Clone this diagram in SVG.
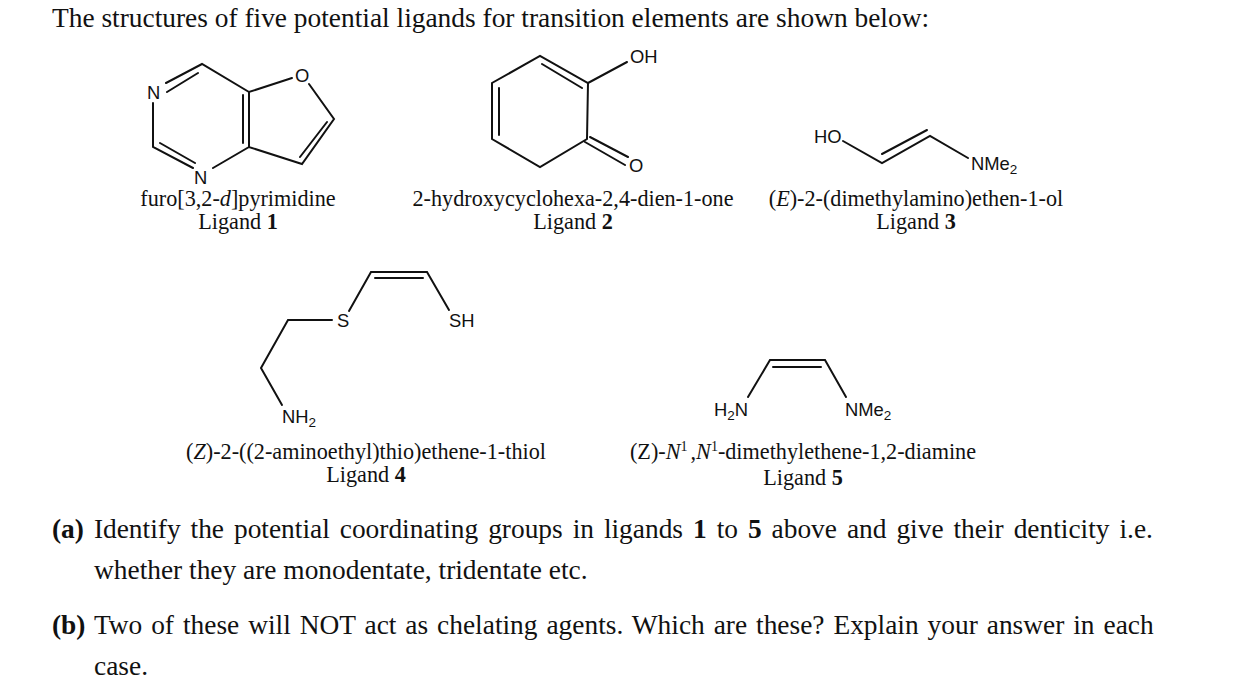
<svg xmlns="http://www.w3.org/2000/svg" width="1243" height="700" viewBox="0 0 1243 700">
<style>
.b{stroke:#111;stroke-width:2;fill:none;stroke-linecap:round}
.t{font-family:"Liberation Serif",serif;fill:#111}
.body{font-size:27.4px}
.cap{font-size:22.2px;text-anchor:middle}
.a{font-family:"Liberation Sans",sans-serif;font-size:18.4px;fill:#111}
.s{font-size:13.5px}
</style>
<rect width="1243" height="700" fill="#fff"/>
<text class="t body" x="52" y="27">The structures of five potential ligands for transition elements are shown below:</text>
<g id="ligand1">
<path class="b" d="M166 83L202 64L249 92L292 78M249 92V147M243 95V143M167 92L198 73M309 84L334 119L302 164L249 147L213 168M327 122L300 157M153 103V147L193 168M160 143L195 163"/>
<text class="a" x="147" y="99">N</text><text class="a" x="194" y="184">N</text><text class="a" x="295" y="82">O</text>
<text class="t cap" x="238" y="206">furo[3,2-<tspan font-style="italic">d</tspan>]pyrimidine</text>
<text class="t cap" x="238" y="229">Ligand <tspan font-weight="bold">1</tspan></text>
</g>
<g id="ligand2">
<path class="b" d="M627 62L588 83L540 56L492 83V139L540 167L587 139L588 83M582 88L542 64M499 88V135M590 137L628 157M585 142L625 165"/>
<text class="a" x="630" y="63">OH</text><text class="a" x="629" y="172">O</text>
<text class="t cap" x="573" y="206">2-hydroxycyclohexa-2,4-dien-1-one</text>
<text class="t cap" x="573" y="229">Ligand <tspan font-weight="bold">2</tspan></text>
</g>
<g id="ligand3">
<path class="b" d="M843 141L882 163L930 136L968 158M882 154L927 130"/>
<text class="a" x="814" y="143">HO</text><text class="a" x="971" y="170">NMe<tspan class="s" dy="4">2</tspan></text>
<text class="t cap" x="916" y="206">(<tspan font-style="italic">E</tspan>)-2-(dimethylamino)ethen-1-ol</text>
<text class="t cap" x="916" y="229">Ligand <tspan font-weight="bold">3</tspan></text>
</g>
<g id="ligand4">
<path class="b" d="M332 320H288L261 368L282 405M349 311L371 272H427L449 310M375 278H423"/>
<text class="a" x="337" y="327">S</text><text class="a" x="449" y="327">SH</text><text class="a" x="282" y="423">NH<tspan class="s" dy="4">2</tspan></text>
<text class="t cap" x="366" y="459">(<tspan font-style="italic">Z</tspan>)-2-((2-aminoethyl)thio)ethene-1-thiol</text>
<text class="t cap" x="366" y="482">Ligand <tspan font-weight="bold">4</tspan></text>
</g>
<g id="ligand5">
<path class="b" d="M748 397L770 360H825L846 397M773 367H821"/>
<text class="a" x="714" y="416">H<tspan class="s" dy="4">2</tspan><tspan dy="-4">N</tspan></text><text class="a" x="845" y="416">NMe<tspan class="s" dy="4">2</tspan></text>
<text class="t cap" x="803" y="459">(Z)-<tspan font-style="italic">N</tspan><tspan font-size="14" dy="-8">1</tspan><tspan dy="8" dx="3">,</tspan><tspan font-style="italic">N</tspan><tspan font-size="14" dy="-8">1</tspan><tspan dy="8">-dimethylethene-1,2-diamine</tspan></text>
<text class="t cap" x="803" y="485">Ligand <tspan font-weight="bold">5</tspan></text>
</g>
<text class="t body" x="52" y="538" word-spacing="3.100"><tspan font-weight="bold">(a)</tspan> Identify the potential coordinating groups in ligands <tspan font-weight="bold">1</tspan> to <tspan font-weight="bold">5</tspan> above and give their denticity i.e.</text>
<text class="t body" x="94" y="579">whether they are monodentate, tridentate etc.</text>
<text class="t body" x="52" y="634" word-spacing="2.100"><tspan font-weight="bold">(b)</tspan> Two of these will NOT act as chelating agents. Which are these? Explain your answer in each</text>
<text class="t body" x="94" y="675">case.</text>
</svg>
